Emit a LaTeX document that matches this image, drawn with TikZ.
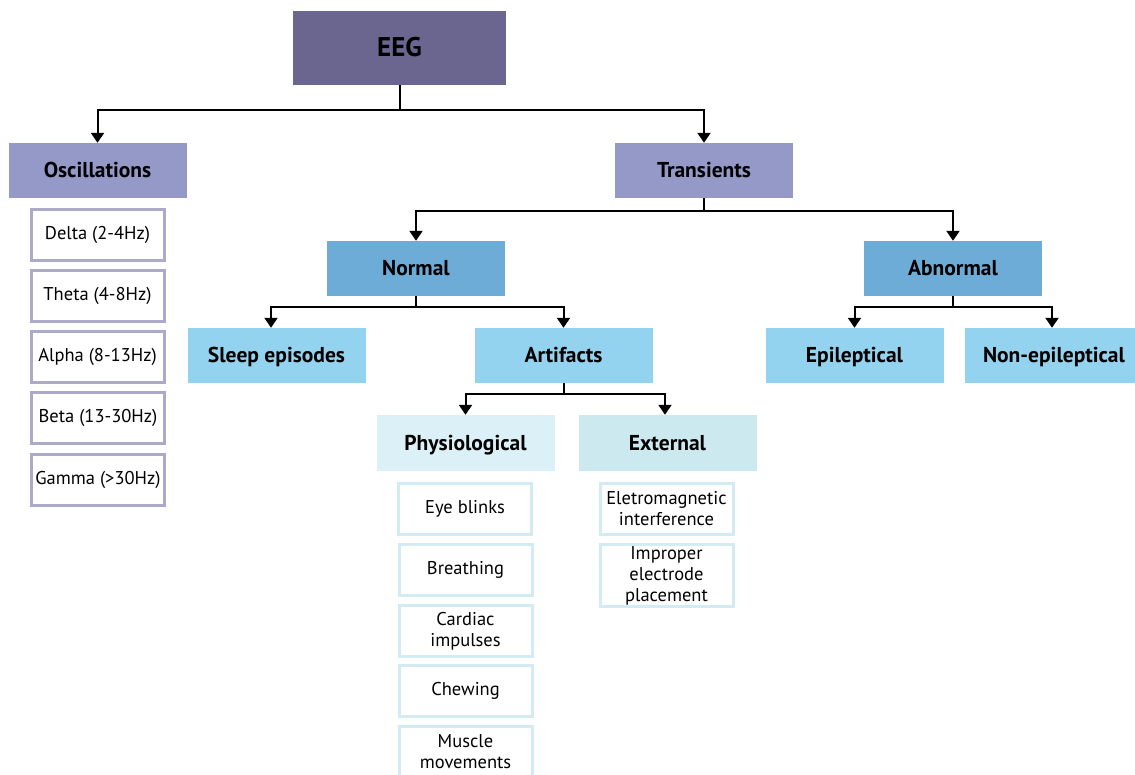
\documentclass[tikz,border=0pt]{standalone}
\usepackage{fontspec}
\setmainfont{PT Sans}
\usetikzlibrary{arrows.meta}
\definecolor{eegc}{HTML}{6B668F}
\definecolor{lvlone}{HTML}{9499C8}
\definecolor{lvltwo}{HTML}{6EACD8}
\definecolor{lvlthree}{HTML}{93D3F0}
\definecolor{physc}{HTML}{DCF1F7}
\definecolor{extc}{HTML}{CBE9EF}
\definecolor{oscline}{HTML}{ADA9C8}
\definecolor{leafline}{HTML}{D3ECF3}
\tikzset{
  hdr/.style={rectangle, inner sep=0pt, minimum width=178, minimum height=55,
    font=\fontsize{21.5}{24}\selectfont\bfseries, text=black,
    text height=16, text depth=2},
  leaf/.style={rectangle, inner sep=0pt, line width=3, fill=white,
    minimum width=133, minimum height=51, align=center,
    font=\fontsize{18.5}{21}\selectfont, text=black},
  osc/.style={leaf, draw=oscline},
  phys/.style={leaf, draw=leafline},
  link/.style={line width=2, black},
  tip/.style={link, -{Triangle[length=10, width=13]}},
}
\begin{document}
\begin{tikzpicture}[x=1pt, y=-1pt]
\useasboundingbox (0,0) rectangle (1135,775);
\clip (0,0) rectangle (1135,775);
\fill[white] (0,0) rectangle (1135,775);

% top level
\node[hdr, fill=eegc, minimum width=213, minimum height=74,
      font=\fontsize{27}{30}\selectfont\bfseries, text height=19, text depth=2]
      (eeg) at (399.5,48) {EEG};

% second level
\node[hdr, fill=lvlone] (osc) at (97.5,170.5) {Oscillations};
\node[hdr, fill=lvlone] (tra) at (704,170.5) {Transients};

% third level
\node[hdr, fill=lvltwo] (nor) at (416,268.5) {Normal};
\node[hdr, fill=lvltwo] (abn) at (953,268.5) {Abnormal};

% fourth level
\node[hdr, fill=lvlthree] (sle) at (276.5,355.5) {Sleep episodes};
\node[hdr, fill=lvlthree] (art) at (563.5,355.5) {Artifacts};
\node[hdr, fill=lvlthree] (epi) at (854.5,355.5) {Epileptical};
\node[hdr, fill=lvlthree] (nep) at (1054,355.5) {Non-epileptical};

% fifth level
\node[hdr, fill=physc, minimum height=56] (phy) at (465.5,443) {Physiological};
\node[hdr, fill=extc, minimum height=56] (ext) at (667.5,443) {External};

% oscillation bands
\node[osc] (del) at (97.5,235) {Delta (2-4Hz)};
\node[osc] (the) at (97.5,296) {Theta (4-8Hz)};
\node[osc] (alp) at (97.5,357) {Alpha (8-13Hz)};
\node[osc] (bet) at (98,418) {Beta (13-30Hz)};
\node[osc] (gam) at (98,479.5) {Gamma (>30Hz)};

% physiological artifacts
\node[phys] (eye) at (465,509) {Eye blinks};
\node[phys] (bre) at (465.5,570) {Breathing};
\node[phys] (car) at (465.5,631) {Cardiac\\impulses};
\node[phys] (che) at (465.5,691) {Chewing};
\node[phys] (mus) at (465.5,752) {Muscle\\movements};

% external artifacts
\node[phys] (ele) at (666.5,509) {Eletromagnetic\\interference};
\node[phys, minimum height=62] (imp) at (666.5,575.5) {Improper\\electrode\\placement};

% connectors
\draw[link] (eeg.south) -- ++(0,25) coordinate (j1);
\draw[tip] (j1) -| (osc.north);
\draw[tip] (j1) -| (tra.north);

\draw[link] (tra.south) -- ++(0,13) coordinate (j2);
\draw[tip] (j2) -| (nor.north);
\draw[tip] (j2) -| (abn.north);

\draw[link] (nor.south) -- ++(0,11) coordinate (j3);
\draw[tip] (j3) -| ([xshift=-5.5]sle.north);
\draw[tip] (j3) -| (art.north);

\draw[link] (abn.south) -- ++(0,11) coordinate (j4);
\draw[tip] (j4) -| (epi.north);
\draw[tip] (j4) -| ([xshift=-2]nep.north);

\draw[link] (art.south) -- ++(0,11) coordinate (j5);
\draw[tip] (j5) -| (phy.north);
\draw[tip] (j5) -| ([xshift=-2.5]ext.north);
\end{tikzpicture}
\end{document}
